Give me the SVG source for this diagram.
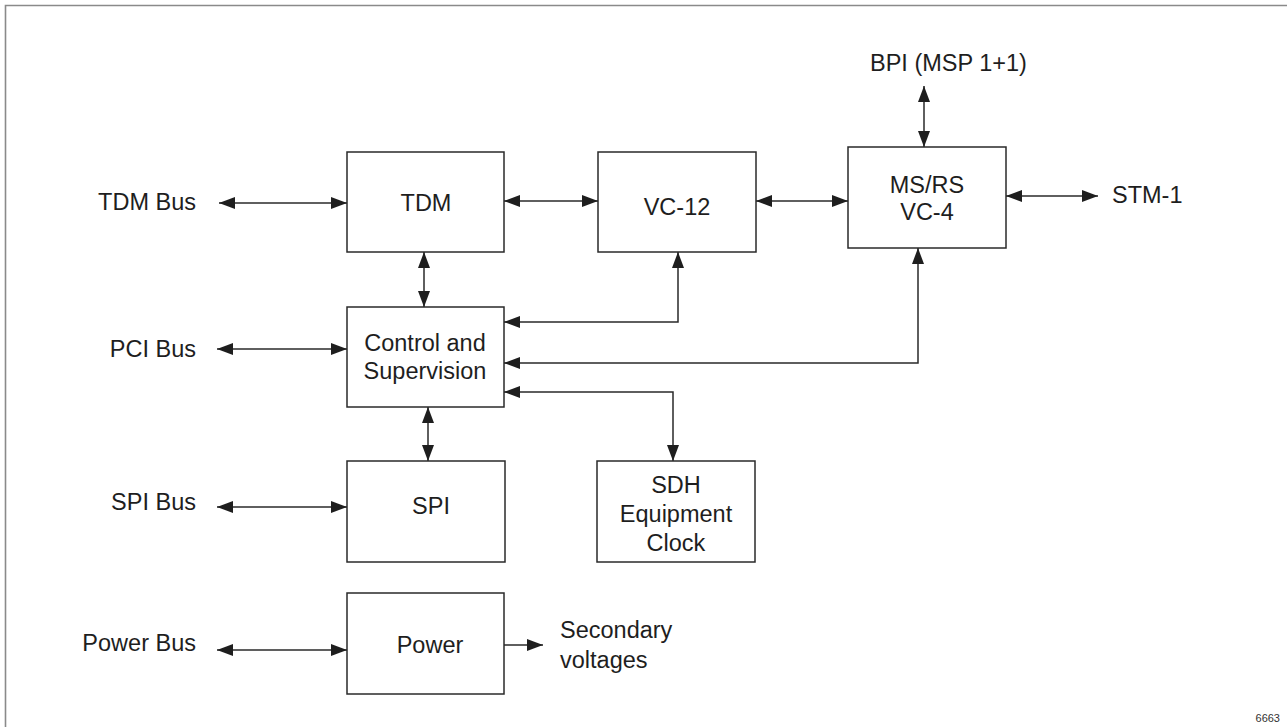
<svg xmlns="http://www.w3.org/2000/svg" width="1287" height="727" viewBox="0 0 1287 727">
<style>
  .box { fill: #ffffff; stroke: #2a2a2a; stroke-width: 1.5; }
  .lbl { font-family: "Liberation Sans", Arial, sans-serif; font-size: 23.5px; fill: #1e1e1e; }
  .mid { text-anchor: middle; }
  .rt { text-anchor: end; }
  .con { fill: none; stroke: #2a2a2a; stroke-width: 1.5; }
  .both { marker-start: url(#ah); marker-end: url(#ah); }
  .end { marker-end: url(#ah); }
</style>
<defs>
  <marker id="ah" viewBox="0 0 16 12" refX="16" refY="6" markerWidth="16" markerHeight="12" markerUnits="userSpaceOnUse" orient="auto-start-reverse">
    <path d="M0,0 L16,6 L0,12 Z" fill="#1e1e1e"/>
  </marker>
</defs>
<rect width="1287" height="727" fill="#ffffff"/>
<path d="M5.5,727 V5.5 H1287" fill="none" stroke="#8a8a8a" stroke-width="1.6"/>

<g id="connectors">
  <path class="con both" d="M219,203 H347"/>
  <path class="con both" d="M504,201 H598"/>
  <path class="con both" d="M756,201 H848"/>
  <path class="con both" d="M1006,196 H1098"/>
  <path class="con both" d="M924,86 V147"/>
  <path class="con both" d="M424,252 V307"/>
  <path class="con both" d="M428,407 V461"/>
  <path class="con both" d="M678,252 V322 H504"/>
  <path class="con both" d="M918,248 V363 H504"/>
  <path class="con both" d="M504,392 H673 V461"/>
  <path class="con both" d="M217,349 H347"/>
  <path class="con both" d="M217,507 H347"/>
  <path class="con both" d="M217,650 H347"/>
  <path class="con end" d="M504,645 H543"/>
</g>

<g id="tdm">
  <rect class="box" x="347" y="152" width="157" height="100"/>
  <text class="lbl mid" x="426" y="211">TDM</text>
</g>
<g id="vc12">
  <rect class="box" x="598" y="152" width="158" height="100"/>
  <text class="lbl mid" x="677" y="215">VC-12</text>
</g>
<g id="msrs">
  <rect class="box" x="848" y="147" width="158" height="101"/>
  <text class="lbl mid" x="927" y="193">MS/RS</text>
  <text class="lbl mid" x="927" y="220">VC-4</text>
</g>
<g id="control">
  <rect class="box" x="347" y="307" width="157" height="100"/>
  <text class="lbl mid" x="425" y="351">Control and</text>
  <text class="lbl mid" x="425" y="379">Supervision</text>
</g>
<g id="spi">
  <rect class="box" x="347" y="461" width="158" height="101"/>
  <text class="lbl mid" x="431" y="514">SPI</text>
</g>
<g id="sdh">
  <rect class="box" x="597" y="461" width="158" height="101"/>
  <text class="lbl mid" x="676" y="493">SDH</text>
  <text class="lbl mid" x="676" y="522">Equipment</text>
  <text class="lbl mid" x="676" y="551">Clock</text>
</g>
<g id="power">
  <rect class="box" x="347" y="593" width="157" height="101"/>
  <text class="lbl mid" x="430" y="653">Power</text>
</g>

<g id="tdm-bus"><text class="lbl rt" x="196" y="210">TDM Bus</text></g>
<g id="pci-bus"><text class="lbl rt" x="196" y="357">PCI Bus</text></g>
<g id="spi-bus"><text class="lbl rt" x="196" y="510">SPI Bus</text></g>
<g id="power-bus"><text class="lbl rt" x="196" y="651">Power Bus</text></g>
<g id="bpi"><text class="lbl" x="870" y="71">BPI (MSP 1+1)</text></g>
<g id="stm1"><text class="lbl" x="1112" y="203">STM-1</text></g>
<g id="secondary">
  <text class="lbl" x="560" y="638">Secondary</text>
  <text class="lbl" x="560" y="668">voltages</text>
</g>
<text x="1280" y="722" font-family="Liberation Sans, Arial, sans-serif" font-size="11" fill="#333" text-anchor="end">6663</text>
</svg>
